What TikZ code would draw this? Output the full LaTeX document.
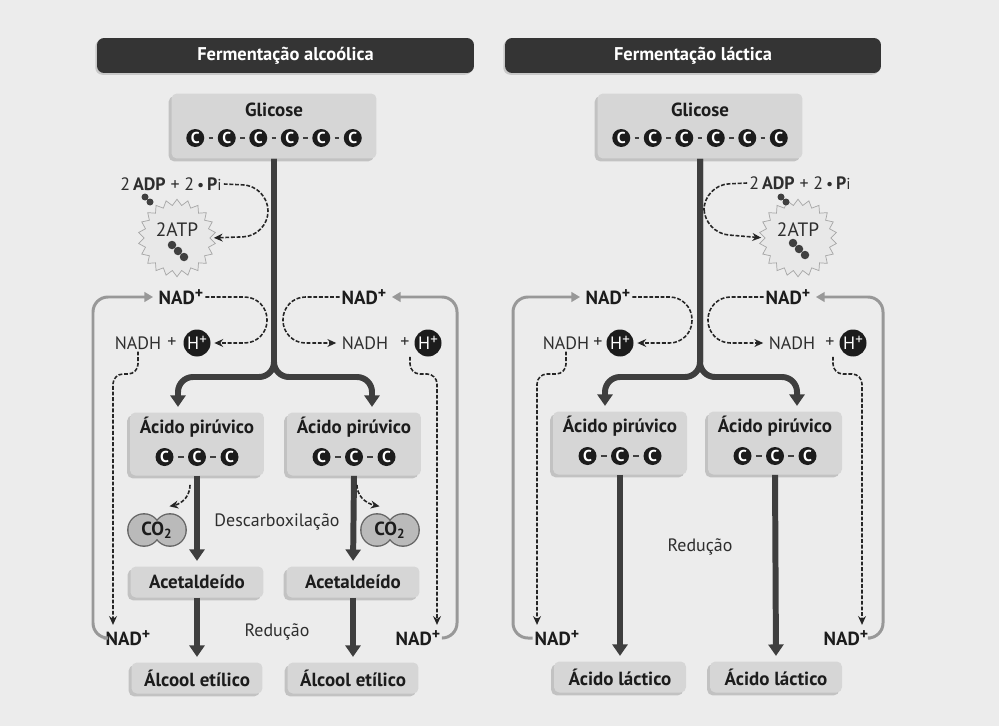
\documentclass[tikz,border=0pt]{standalone}
\usepackage{fontspec}
\setmainfont{PT Sans}
\usetikzlibrary{arrows.meta, positioning, calc, shapes.geometric, shadows}
\definecolor{bgcolor}{RGB}{236,236,236}
\definecolor{boxcolor}{RGB}{214,214,214}
\definecolor{headcolor}{RGB}{52,52,52}
\definecolor{flowcolor}{RGB}{62,62,62}
\definecolor{loopcolor}{RGB}{152,152,152}
\definecolor{inkcolor}{RGB}{28,28,28}
\newcommand{\nadplus}{NAD\raisebox{0.62ex}{\fontsize{9}{9}\selectfont+}}
\newcommand{\hplus}{H\raisebox{0.55ex}{\fontsize{8.5}{8.5}\selectfont+}}

\begin{document}
\begin{tikzpicture}[x=0.02cm, y=-0.02cm,
  header/.style={fill=headcolor, text=white, rounded corners=4pt, minimum height=0.7cm,
    font=\bfseries\fontsize{10.5}{12}\selectfont, drop shadow={shadow xshift=-1pt, shadow yshift=-1pt, fill=black!35}},
  cellbox/.style={fill=boxcolor, rounded corners=3pt,
    drop shadow={shadow xshift=-1.6pt, shadow yshift=-1.6pt, fill=black!40}},
  boxtext/.style={font=\bfseries\fontsize{10.8}{12}\selectfont, text=inkcolor, inner sep=1pt},
  txt/.style={font=\fontsize{10.2}{12}\selectfont, text=black!82, inner sep=1pt},
  carbon/.style={circle, fill=inkcolor, text=white, inner sep=0pt, minimum size=0.36cm,
    font=\bfseries\fontsize{9}{9}\selectfont},
  bond/.style={draw=black!75, line width=0.9pt, shorten >=2.3pt, shorten <=2.3pt},
  hion/.style={circle, fill=inkcolor, text=white, inner sep=0pt, minimum size=0.54cm,
    font=\fontsize{10.2}{11}\selectfont},
  burst/.style={star, star points=22, star point ratio=1.18, minimum size=1.55cm,
    fill=black!9, draw=black!35, line width=0.4pt},
  flow/.style={draw=flowcolor, line width=3.4pt, rounded corners=0.3cm,
    -{Triangle[length=6.5pt, width=8.5pt]}, shorten >=3pt},
  recycle/.style={draw=loopcolor, line width=1.7pt, rounded corners=0.3cm,
    -{Triangle[length=5pt, width=5.5pt]}, shorten >=2pt},
  redox/.style={draw=black!85, line width=0.9pt, dash pattern=on 2.2pt off 1pt,
    rounded corners=0.45cm, -{Stealth[length=5pt, width=4.5pt]}, shorten >=2pt},
  ]
  % Background
  \fill[bgcolor] (0,0) rectangle (999,726);

  % Headers
  \node[header, minimum width=7.54cm] (HEADA) at (285.5,55.5) {Fermentação alcoólica};
  \node[header, minimum width=7.52cm] (HEADL) at (693,55.5) {Fermentação láctica};

  % Glicose
  \node[cellbox, minimum width=4.1cm, minimum height=1.3cm] (GLCA) at (274,126) {};
  \node[boxtext] at (274,110) {Glicose};
  \node[cellbox, minimum width=4.1cm, minimum height=1.3cm] (GLCL) at (700,126) {};
  \node[boxtext] at (700,110) {Glicose};
  \foreach \g/\cx in {GA/274, GL/700} {
    \foreach \k in {0,...,5}
      \node[carbon] (\g\k) at ({\cx+31.5*(\k-2.5)},138) {C};
    \foreach \k [count=\j from 0] in {1,...,5}
      \draw[bond] (\g\j) -- (\g\k);
  }

  % Acido piruvico
  \node[cellbox, minimum width=2.68cm, minimum height=1.26cm] (PIRA1) at (197,444) {};
  \node[cellbox, minimum width=2.68cm, minimum height=1.26cm] (PIRA2) at (354,444) {};
  \node[cellbox, minimum width=2.68cm, minimum height=1.26cm] (PIRL1) at (620,443) {};
  \node[cellbox, minimum width=2.68cm, minimum height=1.26cm] (PIRL2) at (775,443) {};
  \foreach \b/\cx/\ty in {PA1/197/427, PA2/354/427, PL1/620/426, PL2/775/426} {
    \node[boxtext] at (\cx,\ty) {Ácido pirúvico};
    \foreach \k in {0,1,2}
      \node[carbon] (\b\k) at ({\cx+32.5*(\k-1)},{\ty+30}) {C};
    \draw[bond] (\b0) -- (\b1);
    \draw[bond] (\b1) -- (\b2);
  }

  % Products
  \node[cellbox, minimum width=2.66cm, minimum height=0.62cm, boxtext] (ACEA1) at (197,582) {Acetaldeído};
  \node[cellbox, minimum width=2.66cm, minimum height=0.62cm, boxtext] (ACEA2) at (353,582) {Acetaldeído};
  \node[cellbox, minimum width=2.62cm, minimum height=0.62cm, boxtext] (ALCA1) at (197,678) {Álcool etílico};
  \node[cellbox, minimum width=2.62cm, minimum height=0.62cm, boxtext] (ALCA2) at (353,678) {Álcool etílico};
  \node[cellbox, minimum width=2.64cm, minimum height=0.62cm, boxtext] (LACL1) at (620,677) {Ácido láctico};
  \node[cellbox, minimum width=2.64cm, minimum height=0.62cm, boxtext] (LACL2) at (776,677) {Ácido láctico};

  % Glycolysis trunks
  \draw[flow] (GLCA.south) -- (274,377) -| ($(PIRA1.north)+(-19,0)$);
  \draw[flow] (GLCA.south) -- (274,377) -| ($(PIRA2.north)+(18,0)$);
  \draw[flow] (GLCL.south) -- (700,377) -| ($(PIRL1.north)+(-15,0)$);
  \draw[flow] (GLCL.south) -- (700,377) -| ($(PIRL2.north)+(22,0)$);
  \draw[flow] (PIRA1.south) -- (ACEA1.north);
  \draw[flow] (PIRA2.south) -- (ACEA2.north);
  \draw[flow] (ACEA1.south) -- (ALCA1.north);
  \draw[flow] (ACEA2.south) -- (ALCA2.north);
  \draw[flow] (PIRL1.south) -- (LACL1.north);
  \draw[flow] (PIRL2.south) -- (LACL2.north);

  % ATP
  \node[txt] (ADPA) at (171,184) {2\,\textbf{ADP} + 2\,{\small\textbullet}\,\textbf{P}{\small i}};
  \node[txt] (ADPL) at (800,183) {2\,\textbf{ADP} + 2\,{\small\textbullet}\,\textbf{P}{\small i}};
  \node[burst] (ATPA) at (177,238) {};
  \node[burst] (ATPL) at (798,238) {};
  \node[txt, font=\fontsize{11}{12}\selectfont] at (177,230) {2ATP};
  \node[txt, font=\fontsize{11}{12}\selectfont] at (798,230) {2ATP};
  \fill[black!75] (145,197) circle (0.07cm) (150,202) circle (0.07cm)
                  (781,197) circle (0.07cm) (786,202) circle (0.07cm);
  \foreach \d in {0,6,12} {
    \fill[black!75] ({172+\d},{245+\d}) circle (0.085cm);
    \fill[black!75] ({793+\d},{243+\d}) circle (0.085cm);
  }
  \draw[redox, rounded corners=0.5cm] (ADPA.east) -- (268,186) -- (268,236) -- (ATPA.east);
  \draw[redox, rounded corners=0.5cm] (ADPL.west) -- (704,185) -- (704,233) -- (ATPL.west);

  % NAD+ / NADH
  \node[boxtext] (NADTA1) at (181,297) {\nadplus};
  \node[boxtext] (NADTA2) at (364,297) {\nadplus};
  \node[boxtext] (NADTL1) at (608,297) {\nadplus};
  \node[boxtext] (NADTL2) at (788,297) {\nadplus};
  \node[txt] (NADHA1) at (138,343) {NADH};
  \node[txt] (PLUSA1) at (172,343) {+};
  \node[hion] (HA1) at (197,343) {\hplus};
  \node[txt] (NADHA2) at (365,343) {NADH};
  \node[txt] (PLUSA2) at (405,343) {+};
  \node[hion] (HA2) at (428,343) {\hplus};
  \node[txt] (NADHL1) at (566,343) {NADH};
  \node[txt] (PLUSL1) at (598,343) {+};
  \node[hion] (HL1) at (620,343) {\hplus};
  \node[txt] (NADHL2) at (792,343) {NADH};
  \node[txt] (PLUSL2) at (830,343) {+};
  \node[hion] (HL2) at (853,343) {\hplus};
  \node[boxtext] (NADBA1) at (128,638) {\nadplus};
  \node[boxtext] (NADBA2) at (418,638) {\nadplus};
  \node[boxtext] (NADBL1) at (557,638) {\nadplus};
  \node[boxtext] (NADBL2) at (846,638) {\nadplus};

  \draw[redox] (NADTA1.east) -- (267,297) -- (267,343) -- (HA1.east);
  \draw[redox] (NADTA2.west) -- (283,297) -- (283,343) -- (NADHA2.west);
  \draw[redox] (NADTL1.east) -- (692,297) -- (692,343) -- (HL1.east);
  \draw[redox] (NADTL2.west) -- (708,297) -- (708,343) -- (NADHL2.west);
  \draw[redox, rounded corners=0.2cm] (NADHA1.south) |- (113,374) -- ($(NADBA1.north)+(-15,0)$);
  \draw[redox, rounded corners=0.2cm] ($(HA2.south)+(-18,0)$) |- (437,374) -- ($(NADBA2.north)+(19,0)$);
  \draw[redox, rounded corners=0.2cm] (NADHL1.south) |- (537,374) -- ($(NADBL1.north)+(-20,0)$);
  \draw[redox, rounded corners=0.2cm] ($(HL2.south)+(-20,0)$) |- (862,374) -- ($(NADBL2.north)+(16,0)$);

  % NAD+ recycling
  \draw[recycle] (NADBA1.west) -- (93,638) -- (93,297) -- (NADTA1.west);
  \draw[recycle] (NADBA2.east) -- (457,638) -- (457,297) -- (NADTA2.east);
  \draw[recycle] (NADBL1.west) -- (513,638) -- (513,297) -- (NADTL1.west);
  \draw[recycle] (NADBL2.east) -- (883,638) -- (883,297) -- (NADTL2.east);

  % CO2
  \draw[black!60, line width=1pt] (144,530) circle (0.32cm) (170,530) circle (0.32cm)
                                   (377,530) circle (0.32cm) (403,530) circle (0.32cm);
  \fill[black!27] (144,530) circle (0.31cm) (170,530) circle (0.31cm)
                  (377,530) circle (0.31cm) (403,530) circle (0.31cm);
  \node[boxtext] (CO2A1) at (157,530) {CO\textsubscript{2}};
  \node[boxtext] (CO2A2) at (390,530) {CO\textsubscript{2}};
  \draw[redox] ($(PIRA1.south)+(-7,9)$) .. controls +(0,16) and +(10,-2) .. ($(CO2A1)+(9,-23)$);
  \draw[redox] ($(PIRA2.south)+(3,9)$) .. controls +(0,16) and +(-10,-2) .. ($(CO2A2)+(-7,-23)$);

  % Process labels
  \node[txt] (DESC) at (277,522) {Descarboxilação};
  \node[txt] (REDA) at (277,632) {Redução};
  \node[txt] (REDL) at (700,547) {Redução};
\end{tikzpicture}
\end{document}
